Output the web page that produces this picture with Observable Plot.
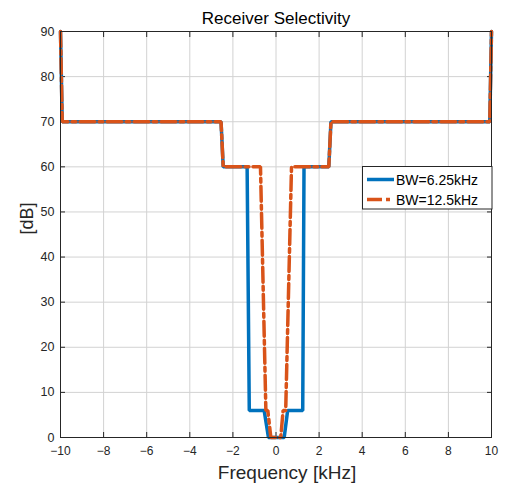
<!DOCTYPE html>
<html>
<head>
<meta charset="utf-8">
<script src="https://cdn.jsdelivr.net/npm/d3@7"></script>
<script src="https://cdn.jsdelivr.net/npm/@observablehq/plot@0.6"></script>
<style>
  html, body { margin: 0; padding: 0; background: #fff; }
  #chart svg { display: block; }
</style>
</head>
<body>
<div id="chart"></div>
<script>
// ---- data ----
const titleText = "Receiver Selectivity";
const xLabel = "Frequency [kHz]";
const yLabel = "[dB]";
const xTicks = [-10, -8, -6, -4, -2, 0, 2, 4, 6, 8, 10];
const yTicks = [0, 10, 20, 30, 40, 50, 60, 70, 80, 90];

const series1Name = "BW=6.25kHz";
const series1Freq = [-10, -9.92, -2.55, -2.45, -1.34, -1.24, -0.55, -0.35, 0.38, 0.54, 1.24, 1.3, 2.45, 2.55, 9.92, 10];
const series1dB   = [90, 70, 70, 60, 60, 6, 6, 0, 0, 6, 6, 60, 60, 70, 70, 90];

const series2Name = "BW=12.5kHz";
const series2Freq = [-10, -9.92, -2.55, -2.45, -0.72, -0.47, -0.38, -0.24, 0.22, 0.33, 0.45, 0.72, 2.45, 2.55, 9.92, 10];
const series2dB   = [90, 70, 70, 60, 60, 6, 6, 0, 0, 6, 6, 60, 60, 70, 70, 90];

const blue = "#0072BD";
const orange = "#D95319";
const dashDot = "15,4,4,4";

const s1 = series1Freq.map((f, i) => ({f, db: series1dB[i]}));
const s2 = series2Freq.map((f, i) => ({f, db: series2dB[i]}));

const font = "'Liberation Sans', Arial, Helvetica, sans-serif";
const ink = "#262626";

const plot = Plot.plot({
  width: 505,
  height: 484,
  marginLeft: 60,
  marginRight: 14,
  marginTop: 31,
  marginBottom: 47,
  style: {fontFamily: font, background: "#fff", color: ink, overflow: "visible"},
  x: {domain: [-10, 10]},
  y: {domain: [0, 90]},
  marks: [
    Plot.gridX(xTicks, {stroke: "#d2d2d2", strokeOpacity: 1}),
    Plot.gridY(yTicks, {stroke: "#d2d2d2", strokeOpacity: 1}),
    Plot.axisX(xTicks, {anchor: "bottom", tickSize: 0, tickPadding: 9, fontSize: 12, label: null, fill: ink}),
    Plot.axisX(xTicks, {anchor: "bottom", tickSize: -5, text: null, label: null, stroke: ink}),
    Plot.axisX(xTicks, {anchor: "top", tickSize: -5, text: null, label: null, stroke: ink}),
    Plot.axisY(yTicks, {anchor: "left", tickSize: 0, tickPadding: 6, fontSize: 12.5, label: null, fill: ink}),
    Plot.axisY(yTicks, {anchor: "left", tickSize: -5, text: null, label: null, stroke: ink}),
    Plot.axisY(yTicks, {anchor: "right", tickSize: -5, text: null, label: null, stroke: ink}),
    Plot.line(s1, {x: "f", y: "db", stroke: blue, strokeWidth: 3.5, strokeLinejoin: "miter"}),
    Plot.line(s2, {x: "f", y: "db", stroke: orange, strokeWidth: 3.5, strokeDasharray: dashDot, strokeLinejoin: "miter"}),
    Plot.frame({stroke: ink, strokeWidth: 1}),
    Plot.text([titleText], {frameAnchor: "top", lineAnchor: "bottom", dy: -8, fontSize: 17, fill: "#000"}),
    Plot.text([xLabel], {frameAnchor: "bottom", lineAnchor: "bottom", dy: 41, dx: 11, fontSize: 19, fill: ink}),
    Plot.text([yLabel], {frameAnchor: "left", rotate: -90, lineAnchor: "middle", dx: -33, fontSize: 18, fill: ink})
  ]
});

// legend box
const svg = d3.select(plot);
const lg = svg.append("g").attr("font-family", font).attr("font-size", 14).attr("text-anchor", "start");
lg.append("rect").attr("x", 362.5).attr("y", 166.5).attr("width", 129.5).attr("height", 42.5)
  .attr("fill", "#fff").attr("stroke", ink).attr("stroke-width", 1);
const entries = [
  {name: series1Name, color: blue, dash: null, y: 179.5},
  {name: series2Name, color: orange, dash: dashDot, y: 199.5}
];
entries.forEach(e => {
  lg.append("line").attr("x1", 367).attr("x2", 394).attr("y1", e.y).attr("y2", e.y)
    .attr("stroke", e.color).attr("stroke-width", 3.5).attr("stroke-dasharray", e.dash);
  lg.append("text").attr("x", 396).attr("y", e.y + 5.3).attr("fill", "#000")
    .attr("text-anchor", "start").style("text-anchor", "start").text(e.name);
});

document.getElementById("chart").appendChild(plot);
</script>
</body>
</html>
